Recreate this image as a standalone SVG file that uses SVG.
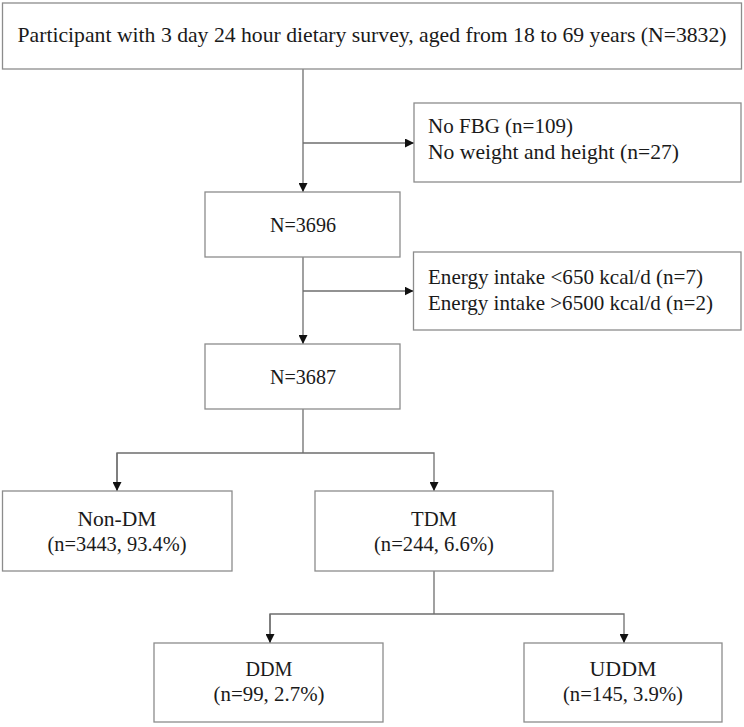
<svg xmlns="http://www.w3.org/2000/svg" width="744" height="727" viewBox="0 0 744 727">
<defs>
<style>
.box{fill:#fff;stroke:#8c8c8c;stroke-width:1.3}
.ln{fill:none;stroke:#6e6e6e;stroke-width:1.3}
text{font-family:"Liberation Serif","Times New Roman",serif;font-size:21.5px;fill:#1a1a1a}
.c{text-anchor:middle}
</style>
<marker id="ah" viewBox="0 0 10 10" refX="10" refY="5" markerWidth="9" markerHeight="9" markerUnits="userSpaceOnUse" orient="auto">
<path d="M0,0 L10,5 L0,10 z" fill="#111"/>
</marker>
</defs>
<rect width="744" height="727" fill="#fff"/>
<g id="connectors">
<line class="ln" x1="303" y1="69" x2="303" y2="192" marker-end="url(#ah)"/>
<line class="ln" x1="303" y1="143" x2="414" y2="143" marker-end="url(#ah)"/>
<line class="ln" x1="303" y1="257" x2="303" y2="344" marker-end="url(#ah)"/>
<line class="ln" x1="303" y1="291" x2="413.5" y2="291" marker-end="url(#ah)"/>
<polyline class="ln" points="303,409 303,453"/>
<polyline class="ln" points="117,491 117,453 434,453 434,491" marker-end="url(#ah)"/>
<line class="ln" x1="117" y1="453" x2="117" y2="491" marker-end="url(#ah)"/>
<polyline class="ln" points="434,571 434,614"/>
<polyline class="ln" points="270,643 270,614 624,614 624,643" marker-end="url(#ah)"/>
<line class="ln" x1="270" y1="614" x2="270" y2="643" marker-end="url(#ah)"/>
</g>
<g id="n-top">
<rect class="box" x="2.5" y="3" width="739" height="66"/>
<text class="c" x="372" y="42" textLength="709" lengthAdjust="spacingAndGlyphs">Participant with 3 day 24 hour dietary survey, aged from 18 to 69 years (N=3832)</text>
</g>
<g id="n-excl1">
<rect class="box" x="414" y="103" width="327" height="79"/>
<text x="428" y="133" textLength="145" lengthAdjust="spacingAndGlyphs">No FBG (n=109)</text>
<text x="428" y="159" textLength="251" lengthAdjust="spacingAndGlyphs">No weight and height (n=27)</text>
</g>
<g id="n-3696">
<rect class="box" x="205" y="192" width="195" height="65"/>
<text class="c" x="303" y="232" textLength="66" lengthAdjust="spacingAndGlyphs">N=3696</text>
</g>
<g id="n-excl2">
<rect class="box" x="413.5" y="252" width="327.5" height="78"/>
<text x="428" y="284" textLength="275" lengthAdjust="spacingAndGlyphs">Energy intake &lt;650 kcal/d (n=7)</text>
<text x="428" y="310" textLength="285" lengthAdjust="spacingAndGlyphs">Energy intake &gt;6500 kcal/d (n=2)</text>
</g>
<g id="n-3687">
<rect class="box" x="205" y="344" width="195" height="65"/>
<text class="c" x="303" y="384" textLength="66" lengthAdjust="spacingAndGlyphs">N=3687</text>
</g>
<g id="n-nondm">
<rect class="box" x="2.5" y="491" width="229.5" height="80"/>
<text class="c" x="117" y="526" textLength="79" lengthAdjust="spacingAndGlyphs">Non-DM</text>
<text class="c" x="117" y="551" textLength="139" lengthAdjust="spacingAndGlyphs">(n=3443, 93.4%)</text>
</g>
<g id="n-tdm">
<rect class="box" x="315" y="491" width="238" height="80"/>
<text class="c" x="434" y="526" textLength="46" lengthAdjust="spacingAndGlyphs">TDM</text>
<text class="c" x="434" y="551" textLength="120" lengthAdjust="spacingAndGlyphs">(n=244, 6.6%)</text>
</g>
<g id="n-ddm">
<rect class="box" x="154" y="643" width="229" height="79"/>
<text class="c" x="269" y="676" textLength="47" lengthAdjust="spacingAndGlyphs">DDM</text>
<text class="c" x="269" y="701" textLength="111" lengthAdjust="spacingAndGlyphs">(n=99, 2.7%)</text>
</g>
<g id="n-uddm">
<rect class="box" x="524" y="643" width="198" height="79"/>
<text class="c" x="623" y="676" textLength="67" lengthAdjust="spacingAndGlyphs">UDDM</text>
<text class="c" x="623" y="701" textLength="120" lengthAdjust="spacingAndGlyphs">(n=145, 3.9%)</text>
</g>
</svg>
